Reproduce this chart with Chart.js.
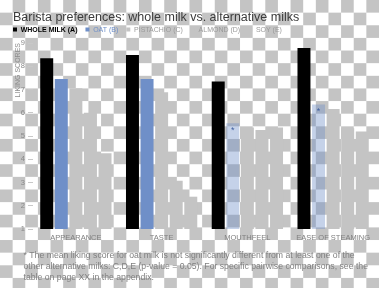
<!DOCTYPE html>
<html><head><meta charset="utf-8">
<script src="https://cdn.jsdelivr.net/npm/chart.js@4.4.1/dist/chart.umd.min.js"></script>
<style>
html,body{margin:0;padding:0;width:379px;height:288px;overflow:hidden;
background: repeating-conic-gradient(#c4c4c4 0% 25%, #ffffff 0% 50%) 0 0 / 25.267px 25.267px;}
#wrap{position:absolute;left:0;top:0;width:379px;height:288px}
</style></head><body>
<div id="wrap"><canvas id="c" width="379" height="288"></canvas></div>
<script>
const titleText = 'Barista preferences: whole milk vs. alternative milks';
const categories = ['APPEARANCE', 'TASTE', 'MOUTHFEEL', 'EASE OF STEAMING'];
const seriesNames = ['WHOLE MILK (A)', 'OAT (B)', 'PISTACHIO (C)', 'ALMOND (D)', 'SOY (E)'];
const wholeMilk = [8.34, 8.48, 7.34, 8.78];
const oat = [7.45, 7.45, 5.55, 6.36];
const pistachio = [7.05, 6.88, 5.37, 6.16];
const almond = [6.0, 3.08, 5.26, 5.33];
const soy = [4.26, 2.39, 5.37, 5.19];
const oatNotSignificant = [false, false, true, true];
const yTicks = [1, 2, 3, 4, 5, 6, 7, 8, 9];
const yTitle = 'LIKING SCORES';
const footnote = [
  '* The mean liking score for oat milk is not significantly different from at least one of the',
  'other alternative milks: C,D,E (p-value = 0.05). For specific pairwise comparisons, see the',
  'table on page XX in the appendix.'
];

const FONT = "'Liberation Sans', Arial, sans-serif";
const BLUE = '#6f8fc8';
const BLUE_LIGHT = 'rgba(111,143,200,0.4)';
const GREY = '#c4c4c4';
const seriesColors = ['#000000', BLUE, GREY, GREY, GREY];
const legendTextColors = ['#000000', BLUE, '#9a9a9a', '#9a9a9a', '#9a9a9a'];
const legendBold = [true, false, false, false, false];

Chart.defaults.font.family = FONT;

const chromePlugin = {
  id: 'chrome',
  afterDraw(chart) {
    const ctx = chart.ctx;
    ctx.save();
    // title
    ctx.font = '12.5px ' + FONT;
    ctx.fillStyle = '#3c3c3c';
    ctx.textAlign = 'left';
    ctx.textBaseline = 'alphabetic';
    ctx.fillText(titleText, 13, 20.5);
    // legend
    let x = 13;
    chart.data.datasets.forEach((ds, i) => {
      ctx.fillStyle = seriesColors[i];
      ctx.fillRect(x, 27.5, 4, 4);
      ctx.font = (legendBold[i] ? 'bold ' : '') + '7px ' + FONT;
      ctx.fillStyle = legendTextColors[i];
      ctx.textBaseline = 'alphabetic';
      ctx.fillText(ds.label, x + 7.7, 31.8);
      x += 7.7 + ctx.measureText(ds.label).width + 8;
    });
    // asterisks on oat bars
    const meta = chart.getDatasetMeta(1);
    ctx.font = '9px ' + FONT;
    ctx.fillStyle = '#3f5f9f';
    ctx.textAlign = 'center';
    ctx.textBaseline = 'top';
    meta.data.forEach((bar, i) => {
      if (oatNotSignificant[i]) ctx.fillText('*', bar.x, bar.y + 2.5);
    });
    // footnote
    ctx.font = '8.7px ' + FONT;
    ctx.fillStyle = '#808080';
    ctx.textAlign = 'left';
    ctx.textBaseline = 'alphabetic';
    footnote.forEach((line, i) => ctx.fillText(line, 23.5, 258 + i * 10.8));
    ctx.restore();
  }
};

const datasets = [wholeMilk, oat, pistachio, almond, soy].map((vals, i) => ({
  label: seriesNames[i],
  data: vals,
  backgroundColor: i === 1 ? vals.map((v, j) => oatNotSignificant[j] ? BLUE_LIGHT : BLUE) : seriesColors[i],
  borderWidth: 0,
  categoryPercentage: 0.85,
  barPercentage: 0.89
}));

new Chart(document.getElementById('c'), {
  type: 'bar',
  data: { labels: categories, datasets },
  plugins: [chromePlugin],
  options: {
    responsive: false,
    animation: false,
    devicePixelRatio: 1,
    layout: { padding: { top: 43, left: 13, right: 3, bottom: 34 } },
    plugins: { legend: { display: false }, title: { display: false }, tooltip: { enabled: false } },
    scales: {
      x: {
        afterFit: s => { s.height = 25; },
        grid: { display: false, drawTicks: false, tickLength: 0 },
        border: { display: false },
        ticks: { color: '#808080', font: { size: 7.5 }, padding: 4, maxRotation: 0, autoSkip: false }
      },
      y: {
        min: yTicks[0],
        max: yTicks[yTicks.length - 1],
        afterFit: s => { s.width = 20; },
        afterBuildTicks: s => { s.ticks = yTicks.map(v => ({ value: v })); },
        border: { display: false },
        grid: { display: true, drawOnChartArea: false, drawTicks: true, tickLength: 5, color: '#c8c8c8' },
        ticks: { color: '#8a8a8a', font: { size: 7.5 }, padding: 3 },
        title: { display: true, text: yTitle, align: 'end', color: '#8c8c8c', font: { size: 7 }, padding: 1 }
      }
    }
  }
});
</script>
</body></html>
